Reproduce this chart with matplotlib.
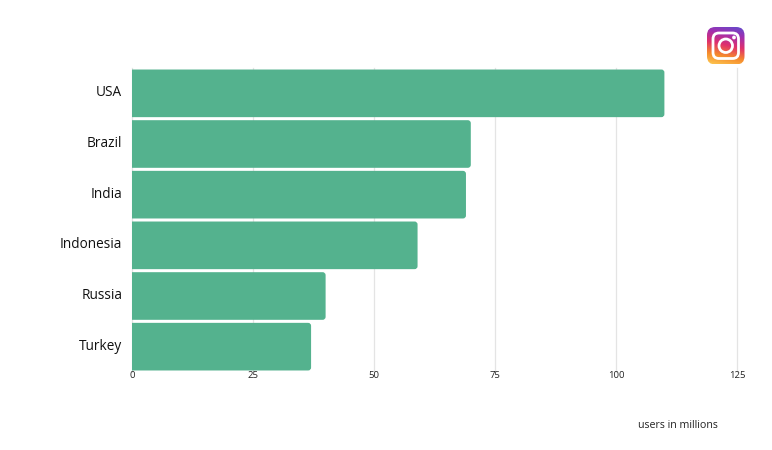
import numpy as np
import matplotlib
matplotlib.use('Agg')
import matplotlib.pyplot as plt
from matplotlib.patches import FancyBboxPatch, Circle, PathPatch
from matplotlib.path import Path
from matplotlib.transforms import ScaledTranslation

plt.rcParams['font.family'] = ['Open Sans', 'DejaVu Sans']

countries = ['USA', 'Brazil', 'India', 'Indonesia', 'Russia', 'Turkey']
users = [110, 70, 69, 59, 40, 37]
ticks = [0, 25, 50, 75, 100, 125]

bar_color = '#54b28e'
W, H = 772, 450

fig = plt.figure(figsize=(W / 100, H / 100), dpi=100)
ax = fig.add_axes([132 / W, 1 - 372 / H, (737 - 132) / W, (372 - 68) / H])
ax.set_xlim(0, 125)
ax.set_ylim(len(users) - 0.5, -0.5)

ax.grid(axis='x', color='#e4e4e4', lw=0.9, clip_on=False)
ax.set_axisbelow(True)
for s in ax.spines.values():
    s.set_visible(False)

# bar with rounded right end, radius given in pixels
def rounded_bar(y, value, height=0.94, r=3):
    rx = r / (605 / 125)
    ry = r / (304 / 6)
    top, bot = y - height / 2, y + height / 2
    verts = [(0, top), (value - rx, top), (value, top), (value, top + ry),
             (value, bot - ry), (value, bot), (value - rx, bot), (0, bot), (0, top)]
    codes = [Path.MOVETO, Path.LINETO, Path.CURVE3, Path.CURVE3,
             Path.LINETO, Path.CURVE3, Path.CURVE3, Path.LINETO, Path.CLOSEPOLY]
    ax.add_patch(PathPatch(Path(verts, codes), fc=bar_color, ec='none', zorder=3))

for i, v in enumerate(users):
    rounded_bar(i, v)

ax.set_xticks(ticks)
ax.set_xticklabels([str(t) for t in ticks], fontsize=6.8, color='#222222')
ax.set_yticks(range(len(countries)))
ax.set_yticklabels(countries, fontsize=9.8, color='#111111')
ax.tick_params(axis='both', length=0)
ax.tick_params(axis='x', pad=-0.5)
ax.tick_params(axis='y', pad=7)

# labels sit a little above the bar centres
shift = ScaledTranslation(0, 1.9 / 72, fig.dpi_scale_trans)
for lab in ax.get_yticklabels():
    lab.set_transform(lab.get_transform() + shift)

fig.text(677.5 / W, 1 - 425 / H, 'users in millions', fontsize=7.7, color='#222222',
         ha='center', va='center')

# instagram logo
logo = fig.add_axes([707 / W, 1 - 64.5 / H, 37.5 / W, 37.5 / H])
logo.set_xlim(0, 1)
logo.set_ylim(0, 1)
logo.axis('off')
gx, gy = np.meshgrid(np.linspace(0, 1, 80), np.linspace(0, 1, 80))
grad = np.clip(gy * 0.82 + gx * 0.18, 0, 1)
cmap = matplotlib.colors.LinearSegmentedColormap.from_list(
    'insta', ['#fdc850', '#f58a2c', '#e0306c', '#a02fb0', '#5a4fd0'])
im = logo.imshow(grad, origin='lower', extent=(0, 1, 0, 1), cmap=cmap, aspect='auto')
box = FancyBboxPatch((0.2, 0.2), 0.6, 0.6, boxstyle='round,pad=0.2,rounding_size=0.22',
                     fc='none', ec='none', transform=logo.transData)
logo.add_patch(box)
im.set_clip_path(box)
logo.add_patch(FancyBboxPatch((0.25, 0.25), 0.5, 0.5, boxstyle='round,pad=0.09,rounding_size=0.16',
                              fc='none', ec='white', lw=2))
logo.add_patch(Circle((0.5, 0.5), 0.18, fc='none', ec='white', lw=2))
logo.add_patch(Circle((0.72, 0.72), 0.05, fc='white', ec='none'))

fig.savefig('out.png', dpi=100)
